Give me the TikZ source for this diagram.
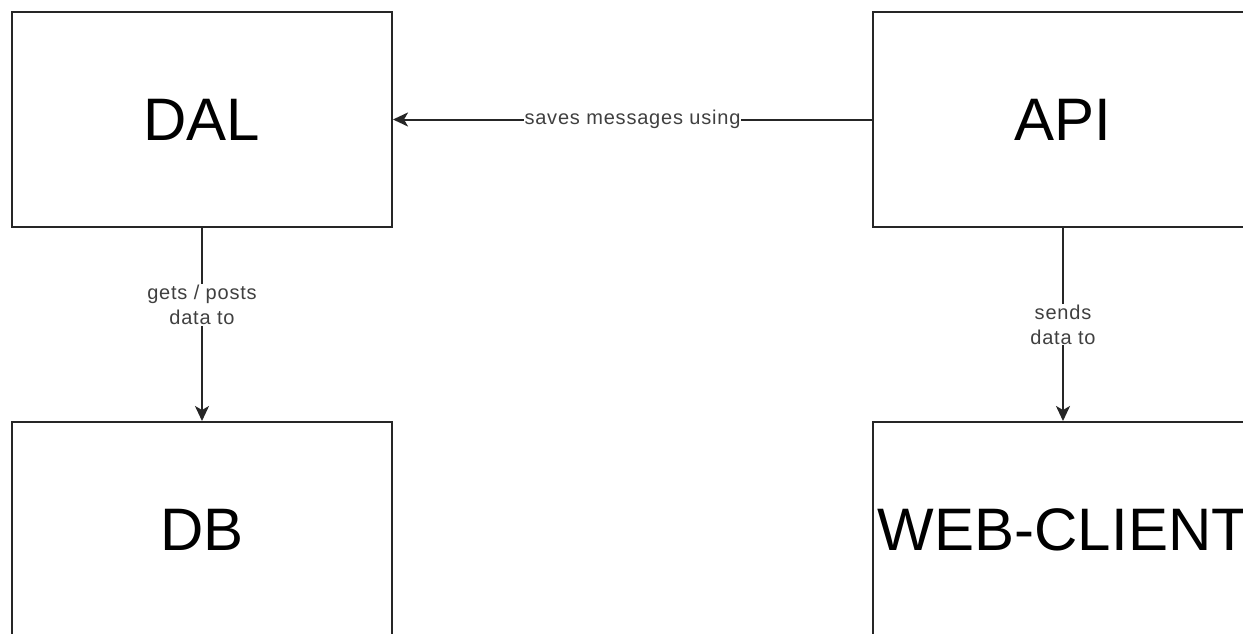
\documentclass[tikz,border=0pt]{standalone}
\usepackage{fontspec}
\setmainfont{Liberation Sans}
\newfontfamily\lblfont[LetterSpace=4]{Liberation Sans}
\usetikzlibrary{arrows.meta}
\begin{document}
\begin{tikzpicture}[x=1pt,y=-1pt,
  box/.style={draw=black!85,line width=2pt,minimum width=380pt,minimum height=215pt,inner sep=0pt,font=\fontsize{60}{60}\selectfont},
  conn/.style={draw=black!85,line width=2pt,-{Stealth[length=15pt,width=14pt,inset=4pt]}},
  lbl/.style={fill=white,text=black!75,font=\lblfont\fontsize{20}{25}\selectfont,align=center,inner sep=1pt}]
\useasboundingbox (0,0) rectangle (1243,634);
\clip (0,0) rectangle (1243,634);
\fill[white] (0,0) rectangle (1243,634);
\node[box] (dal) at (202,119.5) {DAL};
\node[box] (api) at (1063,119.5) {API};
\node[box] (db) at (202,529.5) {DB};
\node[box] (wc) at (1063,529.5) {WEB-CLIENT};
\draw[conn] (api) -- node[lbl] {saves messages using} (dal);
\draw[conn] (dal) -- node[lbl,pos=0.4] {gets / posts\\data to} (db);
\draw[conn] (api) -- node[lbl,pos=0.5] {sends\\data to} (wc);
\end{tikzpicture}
\end{document}
